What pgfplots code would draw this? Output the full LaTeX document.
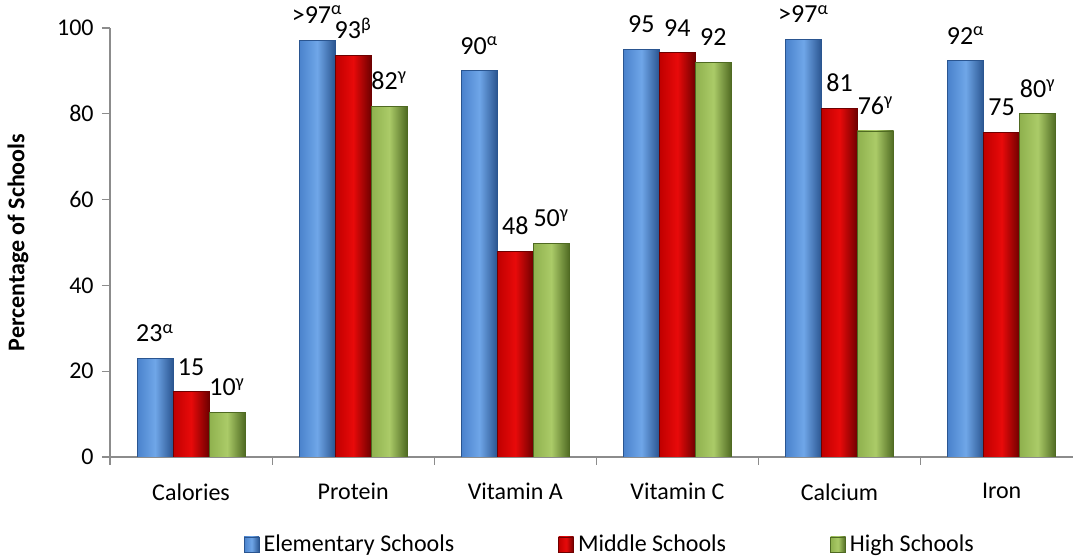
\documentclass[border=0pt]{standalone}
\usepackage{pgfplots}
\pgfplotsset{compat=1.18}
\usepackage{fontspec}
\setmainfont{Carlito}

\definecolor{blueL}{HTML}{4A82CC}
\definecolor{blueM}{HTML}{6FA6E8}
\definecolor{blueD}{HTML}{2A5590}
\definecolor{redL}{HTML}{C00000}
\definecolor{redM}{HTML}{E80A0A}
\definecolor{redD}{HTML}{6E0000}
\definecolor{grnL}{HTML}{8FB14E}
\definecolor{grnM}{HTML}{ABCB68}
\definecolor{grnD}{HTML}{4F6A22}
\definecolor{axgray}{HTML}{8C8C8C}

% one \addplot per bar, so that each bar gets its own shading
\pgfplotsset{
    elem/.style={draw=blueD, line width=0.4pt, left color=blueL, right color=blueD, middle color=blueM, bar shift=-18pt},
    mid/.style={draw=redD, line width=0.4pt, left color=redL, right color=redD, middle color=redM, bar shift=0pt},
    high/.style={draw=grnD, line width=0.4pt, left color=grnL, right color=grnD, middle color=grnM, bar shift=18pt},
}

\begin{document}
\fontsize{12}{14}\selectfont
\begin{tikzpicture}
\begin{axis}[
    name=ax,
    scale only axis,
    width=481.5pt,
    height=214.5pt,
    xmin=-0.5, xmax=5.44,
    ymin=0, ymax=100,
    ybar=0pt,
    bar width=18pt,
    axis x line*=bottom,
    axis y line*=left,
    axis line style={axgray, line width=0.6pt},
    xtick={0,...,5},
    xticklabels={Calories,Protein,Vitamin A,Vitamin C,Calcium,Iron},
    minor xtick={-0.5,0.5,...,4.5},
    major x tick style={draw=none},
    ytick={0,20,...,100},
    tick align=outside,
    major tick length=4pt,
    minor tick length=4pt,
    tick style={axgray, line width=0.6pt},
    xticklabel style={yshift=-5pt},
    /pgf/number format/assume math mode=true,
    ylabel={\bfseries Percentage of Schools},
    ylabel style={at={(axis description cs:-0.0955,0.5)}, anchor=center},
    point meta=explicit symbolic,
    nodes near coords,
    nodes near coords style={font=\fontsize{13}{15}\selectfont, anchor=south, yshift=4pt},
    legend columns=3,
    legend style={draw=none, at={(axis description cs:0.52,-0.205)}, anchor=center,
        /tikz/every even column/.append style={column sep=50pt}},
    legend image code/.code={\draw[#1] (0pt,-3.5pt) rectangle (7.5pt,4pt);},
]
% Elementary Schools
\addplot[elem] coordinates {(0,23) [23\textsuperscript{α}]};
\addlegendentry{Elementary Schools}
\addplot[elem, forget plot] coordinates {(1,97.2) [>97\textsuperscript{α}]};
\addplot[elem, forget plot] coordinates {(2,90) [90\textsuperscript{α}]};
\addplot[elem, forget plot] coordinates {(3,95) [95]};
\addplot[elem, forget plot] coordinates {(4,97.4) [>97\textsuperscript{α}]};
\addplot[elem, forget plot] coordinates {(5,92.4) [92\textsuperscript{α}]};
% Middle Schools
\addplot[mid] coordinates {(0,15.2) [15]};
\addlegendentry{Middle Schools}
\addplot[mid, forget plot] coordinates {(1,93.6) [93\textsuperscript{β}]};
\addplot[mid, forget plot] coordinates {(2,48) [48]};
\addplot[mid, forget plot] coordinates {(3,94.2) [94]};
\addplot[mid, forget plot] coordinates {(4,81.3) [81]};
\addplot[mid, forget plot] coordinates {(5,75.7) [75]};
% High Schools
\addplot[high] coordinates {(0,10.4) [10\textsuperscript{γ}]};
\addlegendentry{High Schools}
\addplot[high, forget plot] coordinates {(1,81.8) [82\textsuperscript{γ}]};
\addplot[high, forget plot] coordinates {(2,49.8) [50\textsuperscript{γ}]};
\addplot[high, forget plot] coordinates {(3,92) [92]};
\addplot[high, forget plot] coordinates {(4,76) [76\textsuperscript{γ}]};
\addplot[high, forget plot] coordinates {(5,80) [80\textsuperscript{γ}]};
\end{axis}
\pgfresetboundingbox
\path[use as bounding box] (ax.south west) ++(-55pt,-50pt) rectangle ++(536.5pt,278.5pt);
\end{tikzpicture}
\end{document}
